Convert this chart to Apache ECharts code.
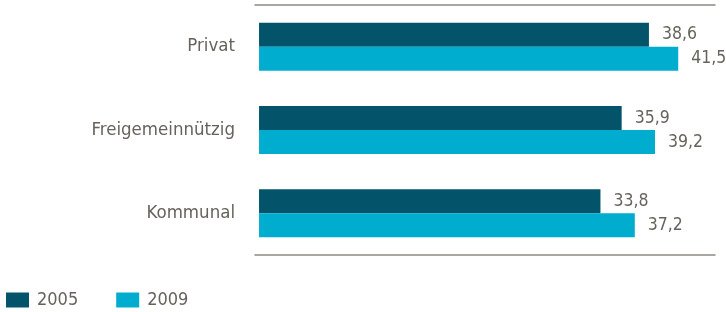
<!DOCTYPE html>
<html><head><meta charset="utf-8">
<script src="https://cdn.jsdelivr.net/npm/echarts@6/dist/echarts.min.js"></script>
<style>html,body{margin:0;padding:0;background:#fff}#c{width:726px;height:312px}</style>
</head><body><div id="c"></div>
<script>
var categories = ['Privat', 'Freigemeinnützig', 'Kommunal'];
var seriesNames = ['2005', '2009'];
var values2005 = [38.6, 35.9, 33.8];
var values2009 = [41.5, 39.2, 37.2];

var FONT = '"DejaVu Sans Condensed", "DejaVu Sans", sans-serif';
var TXT = '#67635c';
var LINE = '#8e8983';
var fmt = function (p) { return String(p.value).replace('.', ','); };

var chart = echarts.init(document.getElementById('c'));
chart.setOption({
  animation: false,
  textStyle: { fontFamily: FONT },
  grid: { left: 255, right: 11, top: 5, bottom: 57, containLabel: false },
  legend: {
    left: 6, top: 291, padding: 0, itemWidth: 23, itemHeight: 15, itemGap: 38,
    icon: 'rect',
    textStyle: { color: TXT, fontSize: 18, fontFamily: FONT, padding: [0, 0, 0, 3] },
    data: seriesNames
  },
  xAxis: [
    { type: 'value', position: 'bottom', min: -0.4, max: 45.14,
      axisLine: { show: true, lineStyle: { color: LINE, width: 1.5 } },
      axisTick: { show: false }, axisLabel: { show: false }, splitLine: { show: false } },
    { type: 'value', position: 'top', min: -0.4, max: 45.14,
      axisLine: { show: true, lineStyle: { color: LINE, width: 1.5 } },
      axisTick: { show: false }, axisLabel: { show: false }, splitLine: { show: false } }
  ],
  yAxis: {
    type: 'category', inverse: true, data: categories,
    axisLine: { show: false }, axisTick: { show: false },
    axisLabel: { color: TXT, fontSize: 18.5, fontFamily: FONT, margin: 20 }
  },
  series: [
    { name: seriesNames[0], type: 'bar', data: values2005, barWidth: 24, barGap: '0%',
      itemStyle: { color: '#03546b' },
      label: { show: true, position: 'right', distance: 13, color: TXT, fontSize: 17.5, fontFamily: FONT, formatter: fmt } },
    { name: seriesNames[1], type: 'bar', data: values2009, barWidth: 24, barGap: '0%',
      itemStyle: { color: '#00adcf' },
      label: { show: true, position: 'right', distance: 13, color: TXT, fontSize: 17.5, fontFamily: FONT, formatter: fmt } }
  ]
});
</script></body></html>
